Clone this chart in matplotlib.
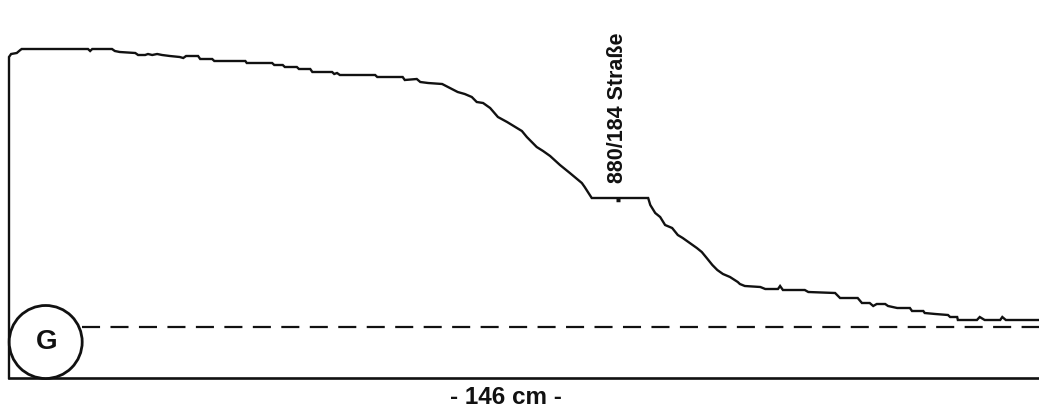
import matplotlib.pyplot as plt
from matplotlib.patches import Ellipse

plt.rcParams['font.family'] = ['Liberation Sans', 'DejaVu Sans']
plt.rcParams['lines.scale_dashes'] = False

# Profil: Position (cm) und Höhe (beliebige Einheit)
pos_cm = [0.0, 0.0, 0.3, 1.1, 1.6, 1.8, 11.2, 11.5, 11.8, 14.6, 15.0, 15.7, 17.9,
          18.3, 19.3, 19.7, 20.3, 21.0, 21.7, 22.8, 24.2, 24.7, 25.1, 26.8, 27.1,
          28.8, 29.1, 33.5, 33.7, 37.3, 37.6, 38.8, 39.1, 40.8, 41.1, 42.7, 43.0,
          45.8, 46.1, 46.5, 46.9, 51.9, 52.2, 55.8, 56.1, 57.8, 58.3, 59.4, 61.4,
          62.5, 63.6, 64.6, 65.6, 66.3, 67.2, 68.2, 69.3, 70.6, 72.0, 72.7, 73.4,
          74.8, 75.7, 76.7, 78.1, 79.5, 81.2, 81.6, 82.6, 90.6, 90.9, 91.6, 92.3,
          93.0, 94.0, 94.8, 95.5, 96.5, 97.5, 98.2, 98.9, 99.7, 100.4, 101.2, 102.2,
          103.3, 103.6, 104.3, 106.5, 107.2, 109.0, 109.3, 109.7, 112.8, 113.3,
          117.1, 117.8, 120.3, 120.9, 122.0, 122.5, 123.0, 124.2, 124.6, 125.9,
          127.7, 128.0, 129.6, 129.8, 131.3, 133.1, 133.4, 134.4, 134.5, 137.2,
          137.6, 138.3, 140.5, 140.8, 141.3, 146.0]
hoehe = [0, 321, 324, 325, 328, 329, 329, 327, 329, 329, 327, 326, 325,
         323, 323, 324, 323, 324, 323, 322, 321, 320, 322, 322, 319,
         319, 317, 317, 315, 315, 313, 313, 311, 311, 309, 309, 306,
         306, 304, 305, 303, 303, 301, 301, 298, 299, 296, 295, 294,
         290, 286, 284, 281, 276, 275, 270, 261, 256, 250, 247, 241,
         231, 227, 222, 213, 205, 195, 191, 180, 180, 173, 165, 161,
         153, 150, 143, 140, 135, 130, 126, 120, 113, 108, 104, 101,
         96, 94, 92, 91, 89, 89, 92, 88, 88, 86,
         85, 80, 80, 75, 75, 72, 74, 74, 72, 70,
         70, 67, 67, 65, 64, 63, 61, 61, 58, 58,
         61, 58, 58, 61, 58, 58]

gesamt_cm = 146
grund_hoehe = 51
marke_cm = 86.3
marke_hoehe = 180
marke_text = "880/184 Straße"

fig = plt.figure(figsize=(10.39, 4.12), dpi=100)
ax = fig.add_axes([9 / 1039, 34 / 412, 1030 / 1039, 378 / 412])
ax.set_xlim(0, gesamt_cm)
ax.set_ylim(0, 378)
ax.axis('off')

farbe = '#111111'

# Profillinie
ax.plot(pos_cm, hoehe, color=farbe, lw=1.7, clip_on=False, solid_joinstyle='miter')
# Grundlinie unten
ax.plot([0, gesamt_cm], [0, 0], color=farbe, lw=1.9, clip_on=False)
# Gestrichelte Linie
ax.plot([10.3, gesamt_cm], [grund_hoehe, grund_hoehe], color=farbe, lw=1.6,
        dashes=(13, 7.5), clip_on=False)

# Kreis mit G
kreis = Ellipse((5.2, 36), width=2 * 36.5 * gesamt_cm / 1030, height=73,
                facecolor='white', edgecolor=farbe, lw=2.0, zorder=5, clip_on=False)
ax.add_patch(kreis)
ax.text(5.3, 36, "G", fontsize=20, fontweight='bold', ha='center', va='center',
        color=farbe, zorder=6)

# Marke
ax.plot([marke_cm - 0.3, marke_cm + 0.3], [marke_hoehe - 2, marke_hoehe - 2],
        color=farbe, lw=2.5, solid_capstyle='butt')
ax.text(marke_cm, marke_hoehe + 15, marke_text, rotation=90, fontsize=15.5,
        fontweight='bold', ha='center', va='bottom', color=farbe)

# Beschriftung unten
fig.text(506 / 1039, 1 - 398 / 412, "- 146 cm -", fontsize=17.5, fontweight='bold',
         ha='center', va='center', color=farbe)

fig.savefig('out.png', dpi=100)
plt.close(fig)
